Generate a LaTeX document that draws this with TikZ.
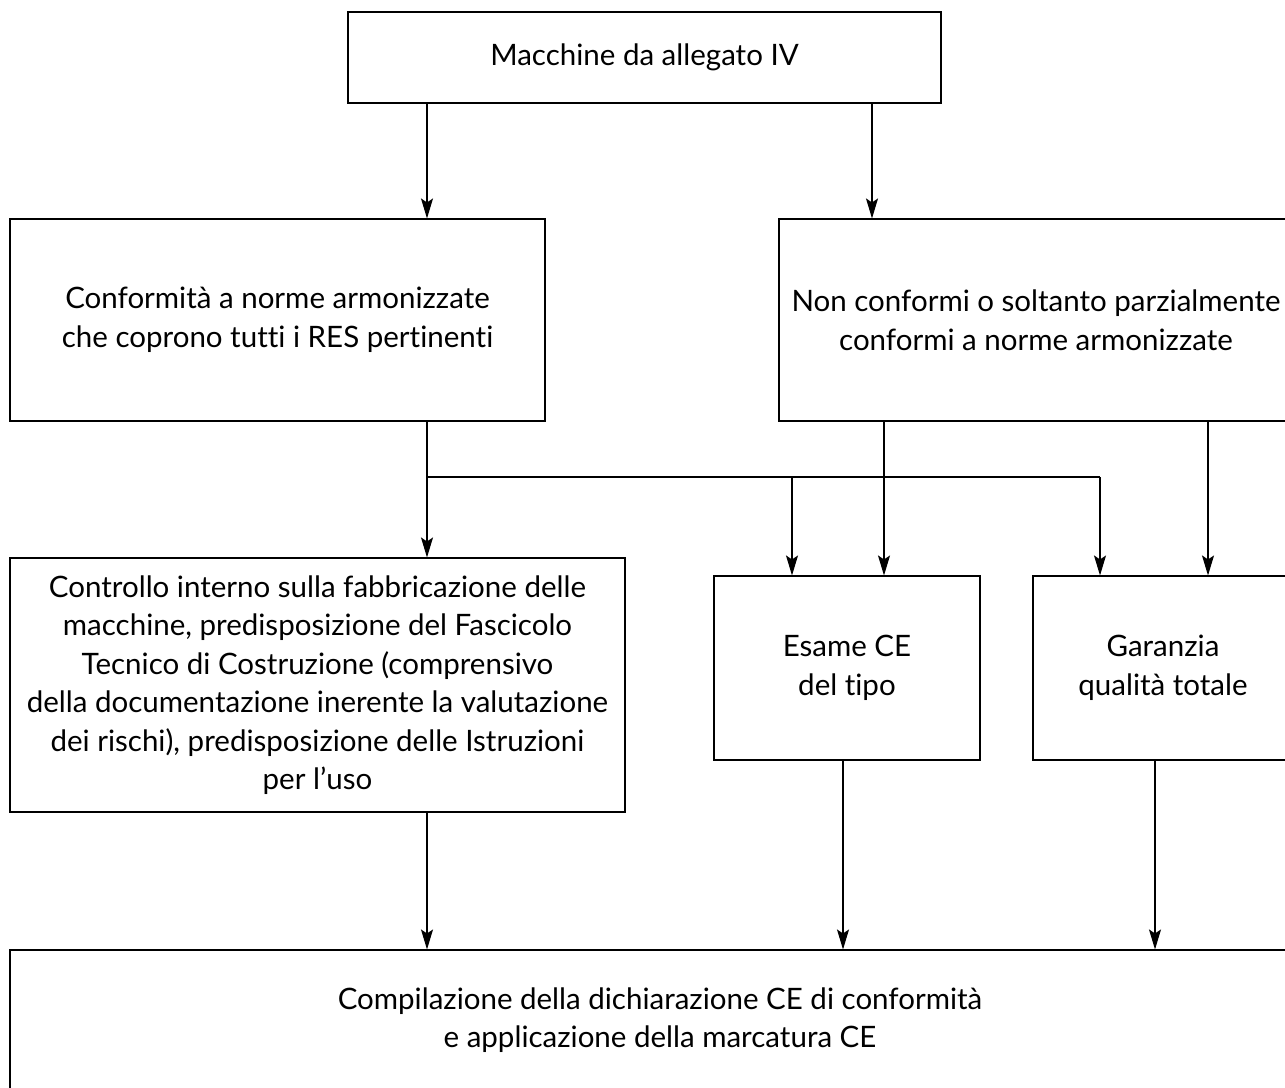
\documentclass[tikz,border=0pt]{standalone}
\usepackage{fontspec}
\setmainfont[Ligatures=NoCommon]{Lato}
\usetikzlibrary{arrows.meta}
\begin{document}
\begin{tikzpicture}[x=1pt,y=-1pt,
  box/.style={draw, line width=1.1pt, align=center, inner sep=0pt,
    font=\fontsize{29.5}{38.5}\selectfont},
  arr/.style={-{Stealth[length=20pt,width=12pt,inset=4pt]}, line width=1.1pt},
  ln/.style={line width=1.1pt}]
\useasboundingbox (0,0) rectangle (1285,1087);
\clip (0,0) rectangle (1285,1087);

\node[box, minimum width=593pt, minimum height=91pt] (top) at (644.5,57.5) {Macchine da allegato IV};
\node[box, minimum width=535pt, minimum height=202pt] (left2) at (277.5,320) {Conformità a norme armonizzate\\che coprono tutti i RES pertinenti};
\node[box, minimum width=514pt, minimum height=202pt] (right2) at (1036,320) {Non conformi o soltanto parzialmente\\conformi a norme armonizzate};
\node[box, minimum width=615pt, minimum height=254pt] (box3) at (317.5,685) {Controllo interno sulla fabbricazione delle\\macchine, predisposizione del Fascicolo\\Tecnico di Costruzione (comprensivo\\della documentazione inerente la valutazione\\dei rischi), predisposizione delle Istruzioni\\per l’uso};
\node[box, minimum width=266pt, minimum height=184pt] (esame) at (847,668) {Esame CE\\del tipo};
\node[box, minimum width=260pt, minimum height=184pt] (gar) at (1163,668) {Garanzia\\qualità totale};
\node[box, minimum width=1300pt, minimum height=140pt] (bot) at (660,1020) {Compilazione della dichiarazione CE di conformità\\e applicazione della marcatura CE};

\coordinate (xa) at (427,0);
\coordinate (xb) at (872,0);
\coordinate (xc) at (792,0);
\coordinate (xd) at (884,0);
\coordinate (xe) at (1100,0);
\coordinate (xf) at (1208,0);
\coordinate (xg) at (843,0);
\coordinate (xh) at (1155,0);
\coordinate (hy) at (0,477);

\draw[arr] (top.south -| xa) -- (left2.north -| xa);
\draw[arr] (top.south -| xb) -- (right2.north -| xb);
\draw[arr] (left2.south -| xa) -- (box3.north -| xa);
\draw[ln] (hy -| xa) -- (hy -| xe);
\draw[arr] (hy -| xc) -- (esame.north -| xc);
\draw[arr] (hy -| xe) -- (gar.north -| xe);
\draw[arr] (right2.south -| xd) -- (esame.north -| xd);
\draw[arr] (right2.south -| xf) -- (gar.north -| xf);
\draw[arr] (box3.south -| xa) -- (bot.north -| xa);
\draw[arr] (esame.south -| xg) -- (bot.north -| xg);
\draw[arr] (gar.south -| xh) -- (bot.north -| xh);
\end{tikzpicture}
\end{document}
